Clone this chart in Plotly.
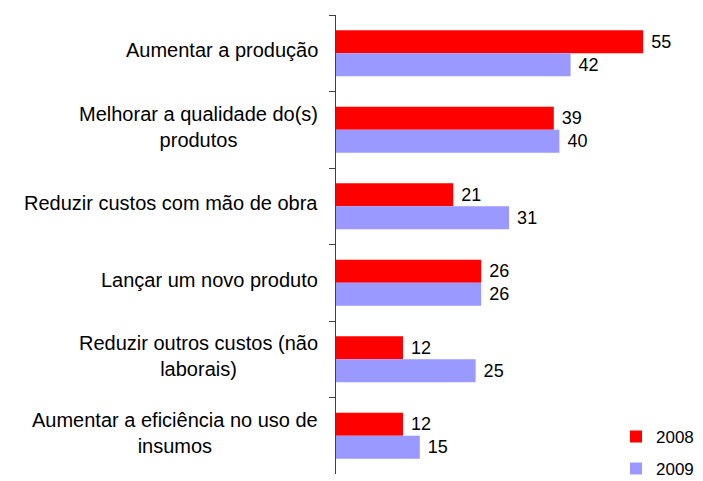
import plotly.graph_objects as go

categories = [
    "Aumentar a produção",
    "Melhorar a qualidade do(s)<br>produtos",
    "Reduzir custos com mão de obra",
    "Lançar um novo produto",
    "Reduzir outros custos (não<br>laborais)",
    "Aumentar a eficiência no uso de<br>insumos",
]
values_2008 = [55, 39, 21, 26, 12, 12]
values_2009 = [42, 40, 31, 26, 25, 15]
series_names = ["2008", "2009"]

FONT = "Liberation Sans, Arial, sans-serif"

fig = go.Figure()
fig.add_trace(go.Bar(
    y=categories, x=values_2008, orientation="h", name=series_names[0],
    marker=dict(color="#FF0000", line=dict(width=0)),
    text=values_2008, texttemplate=" %{x}", textposition="outside",
    textfont=dict(family=FONT, size=18, color="#000000"),
    cliponaxis=False, legendgroup="a",
))
fig.add_trace(go.Bar(
    y=categories, x=values_2009, orientation="h", name=series_names[1],
    marker=dict(color="#9999FF", line=dict(width=0)),
    text=values_2009, texttemplate=" %{x}", textposition="outside",
    textfont=dict(family=FONT, size=18, color="#000000"),
    cliponaxis=False, legendgroup="b",
))

for c in categories:
    fig.add_annotation(
        x=0, xref="paper", y=c, yref="y", xanchor="right", xshift=-16, yshift=3,
        text=c, showarrow=False, align="center",
        font=dict(family=FONT, size=20, color="#000000"),
    )

# page body has an 8px default margin, so the figure is 8px smaller
fig.update_layout(
    width=695, height=473,
    margin=dict(l=328, r=4, t=7, b=7, autoexpand=False),
    paper_bgcolor="white", plot_bgcolor="white",
    barmode="group", bargap=0.397, bargroupgap=0,
    showlegend=True,
    legend=dict(
        x=1, xanchor="right", y=-0.028, yanchor="bottom",
        font=dict(family=FONT, size=17, color="#000000"),
        bgcolor="rgba(0,0,0,0)", tracegroupgap=7,
    ),
    font=dict(family=FONT, size=18, color="#000000"),
)
fig.update_xaxes(range=[0, 65], visible=False)
fig.update_yaxes(
    autorange="reversed", showticklabels=False,
    showline=True, linecolor="#404040", linewidth=1,
    ticks="outside", tickson="boundaries", ticklen=6, tickcolor="#404040",
    showgrid=False, zeroline=False,
)

fig.write_html("out.html")
